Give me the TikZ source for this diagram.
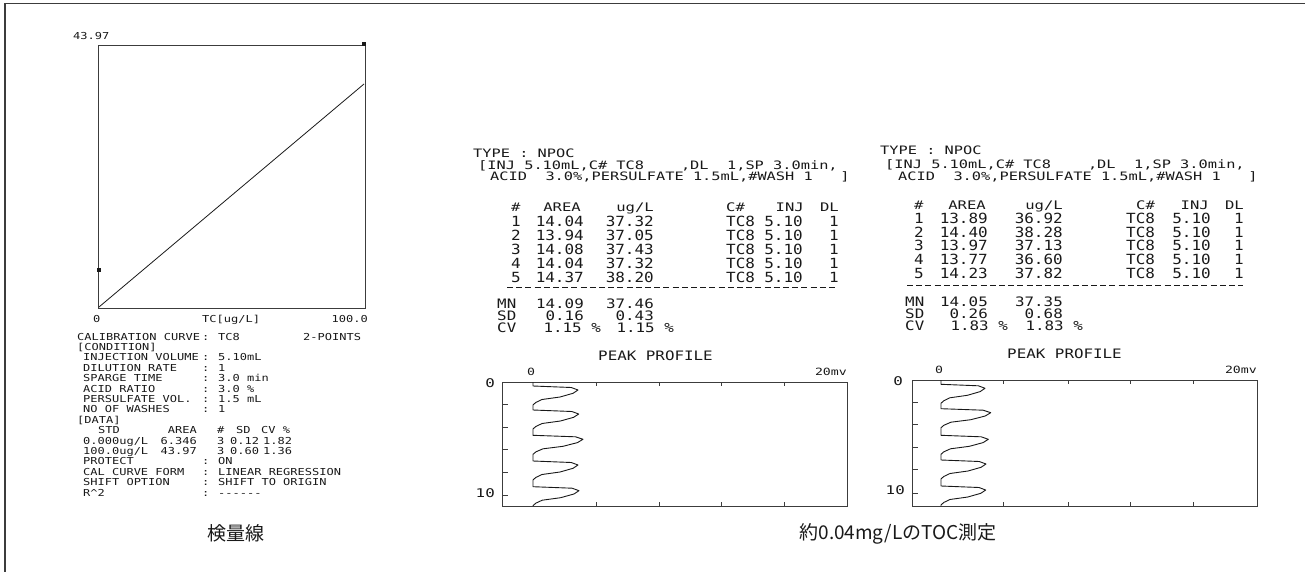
\documentclass[tikz,border=0pt]{standalone}
\usepackage{fontspec}
\newfontfamily\fA[FakeStretch=1.25]{DejaVu Sans Mono}
\newfontfamily\fH[FakeStretch=1.32]{DejaVu Sans Mono}
\newfontfamily\fM[FakeStretch=1.22]{DejaVu Sans Mono}
\newfontfamily\fT[FakeStretch=1.14]{DejaVu Sans Mono}
\newfontfamily\cjk{Noto Sans CJK JP}
\newcommand\FA{\fA\fontsize{9.6}{10}\selectfont}
\newcommand\FH{\fH\fontsize{11.6}{12}\selectfont}
\newcommand\FHh{\fH\fontsize{11.8}{12}\selectfont}
\newcommand\FT{\fT\fontsize{14}{14}\selectfont}
\newcommand\FM{\fM\fontsize{13}{13}\selectfont}
\newcommand\FS{\fH\fontsize{10}{10}\selectfont}
\newcommand\FL{\fH\fontsize{12}{12}\selectfont}
\newcommand\FC{\cjk\fontsize{19}{19}\selectfont}
\newcommand\hy{\mbox{-}}
\definecolor{ink}{RGB}{25,25,25}
\definecolor{frame}{RGB}{60,60,60}
\newcommand\peaktrace[4]{%
  \draw[trace] (#1,#2) \foreach \pk/\am in {#4} {
    -- (#1,{\pk-4}) -- ({#1+0.85*\am},{\pk-2.5}) -- ({#1+\am},\pk)
    -- ({#1+0.89*\am},{\pk+3.3}) -- ({#1+0.6*\am},{\pk+7})
    -- ({#1+0.2*\am},{\pk+9.5}) -- ({#1+0.06*\am},{\pk+12.5}) -- (#1,{\pk+15}) } -- (#1,#3);}
\tikzset{
  txt/.style={inner sep=0pt, text=ink},
  bw/.style={txt, anchor=base west},
  be/.style={txt, anchor=base east},
  frm/.style={draw=frame, line width=0.9pt},
  trace/.style={draw=ink, line width=0.9pt, line join=round},
  tick/.style={draw=frame, line width=0.8pt},
  sep/.style={draw=ink, line width=0.9pt, dash pattern=on 6pt off 3.2pt}
}
\begin{document}
\begin{tikzpicture}[x=1pt,y=-1pt]
\useasboundingbox (0,0) rectangle (1305,572);
% outer border
\draw[draw=frame, line width=1.2pt] (5,572) -- (5,3.5) -- (1305,3.5);

% ---------- calibration chart ----------
\draw[frm] (98,45) rectangle (365,308);
\draw[trace, line width=0.8pt] (99,307) -- (364,84);
\fill[ink] (362,42) rectangle (366,46);
\fill[ink] (97,268) rectangle (101,272);
\node[bw,font=\FA] (ymax) at (73,40) {43.97};
\node[bw,font=\FA] (xmin) at (93,322) {0};
\node[bw,font=\FA] (xlab) at (202,322) {TC[ug/L]};
\node[be,font=\FA] (xmax) at (368,322) {100.0};

% ---------- calibration text ----------
\node[bw,font=\FA] (c0l) at (77,340) {CALIBRATION CURVE};
\node[bw,font=\FA] (c0c) at (202,340) {:};
\node[bw,font=\FA] (c0v) at (218,340) {TC8};
\node[bw,font=\FA] (c0p) at (303,340) {2-POINTS};
\node[bw,font=\FA] (c1) at (77,350.4) {[CONDITION]};
\foreach \k/\lab/\val in {2/INJECTION VOLUME/5.10mL, 3/DILUTION RATE/1, 4/SPARGE TIME/3.0 min,
  5/ACID RATIO/3.0 \%, 6/PERSULFATE VOL./1.5 mL, 7/NO OF WASHES/1, 12/PROTECT/ON,
  13/CAL CURVE FORM/LINEAR REGRESSION, 14/SHIFT OPTION/SHIFT TO ORIGIN,
  15/R\textasciicircum 2/\hy\hy\hy\hy\hy\hy} {
  \node[bw,font=\FA] (cl\k) at (83,{340+10.4*\k}) {\lab};
  \node[bw,font=\FA] (cc\k) at (202,{340+10.4*\k}) {:};
  \node[bw,font=\FA] (cv\k) at (218,{340+10.4*\k}) {\val};
}
\node[bw,font=\FA] (c8) at (77,423.2) {[DATA]};
\node[bw,font=\FA] (d0a) at (98,433.6) {STD};
\node[be,font=\FA] (d0b) at (197,433.6) {AREA};
\node[bw,font=\FA] (d0c) at (217,433.6) {\#};
\node[bw,font=\FA] (d0d) at (236,433.6) {SD};
\node[bw,font=\FA] (d0e) at (261,433.6) {CV \%};
\foreach \k/\s/\ar/\sd/\cv in {1/0.000ug\slash L/6.346/0.12/1.82, 2/100.0ug\slash L/43.97/0.60/1.36} {
  \node[bw,font=\FA] (d\k a) at (83,{433.6+10.4*\k}) {\s};
  \node[be,font=\FA] (d\k b) at (197,{433.6+10.4*\k}) {\ar};
  \node[bw,font=\FA] (d\k c) at (217,{433.6+10.4*\k}) {3};
  \node[bw,font=\FA] (d\k d) at (230,{433.6+10.4*\k}) {\sd};
  \node[bw,font=\FA] (d\k e) at (263,{433.6+10.4*\k}) {\cv};
}
\node[txt,font=\FC] (cap1) at (236,533) {検量線};

% ---------- middle report ----------
\node[bw,font=\FH] (mt1) at (473,158) {TYPE : NPOC};
\node[bw,font=\FH] (mt2) at (478,170) {[INJ 5.10mL,C\# TC8~~~~,DL~~1,SP 3.0min,};
\node[bw,font=\FH] (mt3) at (490,181) {ACID~~3.0\%,PERSULFATE 1.5mL,\#WASH 1~~~]};
\node[bw,font=\FHh] (mh1) at (511,211.5) {\#};
\node[be,font=\FHh] (mh2) at (581,211.5) {AREA};
\node[be,font=\FHh] (mh3) at (654,211.5) {ug/L};
\node[bw,font=\FHh] (mh4) at (726,211.5) {C\#};
\node[be,font=\FHh] (mh5) at (804,211.5) {INJ};
\node[be,font=\FHh] (mh6) at (839,211.5) {DL};
\foreach \i/\ar/\ug in {1/14.04/37.32, 2/13.94/37.05, 3/14.08/37.43, 4/14.04/37.32, 5/14.37/38.20} {
  \node[bw,font=\FT] (mn\i) at (511,{212+14*\i}) {\i};
  \node[be,font=\FT] (ma\i) at (584,{212+14*\i}) {\ar};
  \node[be,font=\FT] (mu\i) at (654,{212+14*\i}) {\ug};
  \node[bw,font=\FT] (mc\i) at (726,{212+14*\i}) {TC8};
  \node[be,font=\FT] (mj\i) at (803,{212+14*\i}) {5.10};
  \node[be,font=\FT] (md\i) at (839,{212+14*\i}) {1};
}
\coordinate (msepa) at (507,287);
\coordinate (msepb) at (838,287);
\draw[sep] (msepa) -- (msepb);
\node[bw,font=\FM] (mmn) at (497,308) {MN};
\node[be,font=\FM] (mmn1) at (584,308) {14.09};
\node[be,font=\FM] (mmn2) at (654,308) {37.46};
\node[bw,font=\FM] (msd) at (497,320) {SD};
\node[be,font=\FM] (msd1) at (584,320) {0.16};
\node[be,font=\FM] (msd2) at (654,320) {0.43};
\node[bw,font=\FM] (mcv) at (497,332) {CV};
\node[be,font=\FM] (mcv1) at (601,332) {1.15 \%};
\node[be,font=\FM] (mcv2) at (674,332) {1.15 \%};

% middle peak profile
\node[bw,font=\FM] (mpp) at (598,360) {PEAK PROFILE};
\node[bw,font=\FS] (mx0) at (527,375) {0};
\node[be,font=\FS] (mx1) at (847,375) {20mv};
\node[be,font=\FL] (my0) at (495,387) {0};
\node[be,font=\FL] (my1) at (495,497) {10};
\draw[frm] (502,382) rectangle (847,506);
\foreach \t in {404,427,449,472,495} \draw[tick] (502,\t) -- (508,\t);
\foreach \t in {596,659,721,784} { \draw[tick] (\t,382) -- (\t,386); \draw[tick] (\t,506) -- (\t,502); }
\peaktrace{533}{382}{506}{390/45, 414/45.7, 439.3/50, 465/45, 490.7/46}

% ---------- right report ----------
\node[bw,font=\FH] (rt1) at (880,155) {TYPE : NPOC};
\node[bw,font=\FH] (rt2) at (885,168) {[INJ 5.10mL,C\# TC8~~~~,DL~~1,SP 3.0min,};
\node[bw,font=\FH] (rt3) at (898,180) {ACID~~3.0\%,PERSULFATE 1.5mL,\#WASH 1~~~]};
\node[bw,font=\FHh] (rh1) at (914,209.5) {\#};
\node[be,font=\FHh] (rh2) at (986,209.5) {AREA};
\node[be,font=\FHh] (rh3) at (1063,209.5) {ug/L};
\node[bw,font=\FHh] (rh4) at (1136,209.5) {C\#};
\node[be,font=\FHh] (rh5) at (1209,209.5) {INJ};
\node[be,font=\FHh] (rh6) at (1244,209.5) {DL};
\foreach \i/\ar/\ug in {1/13.89/36.92, 2/14.40/38.28, 3/13.97/37.13, 4/13.77/36.60, 5/14.23/37.82} {
  \node[bw,font=\FT] (rn\i) at (914,{209.5+13.75*\i}) {\i};
  \node[be,font=\FT] (ra\i) at (988,{209.5+13.75*\i}) {\ar};
  \node[be,font=\FT] (ru\i) at (1063,{209.5+13.75*\i}) {\ug};
  \node[bw,font=\FT] (rc\i) at (1126,{209.5+13.75*\i}) {TC8};
  \node[be,font=\FT] (rj\i) at (1211,{209.5+13.75*\i}) {5.10};
  \node[be,font=\FT] (rd\i) at (1244,{209.5+13.75*\i}) {1};
}
\coordinate (rsepa) at (907,285);
\coordinate (rsepb) at (1243,285);
\draw[sep] (rsepa) -- (rsepb);
\node[bw,font=\FM] (rmn) at (905,306.5) {MN};
\node[be,font=\FM] (rmn1) at (988,306.5) {14.05};
\node[be,font=\FM] (rmn2) at (1063,306.5) {37.35};
\node[bw,font=\FM] (rsd) at (905,318.5) {SD};
\node[be,font=\FM] (rsd1) at (988,318.5) {0.26};
\node[be,font=\FM] (rsd2) at (1063,318.5) {0.68};
\node[bw,font=\FM] (rcv) at (905,330.5) {CV};
\node[be,font=\FM] (rcv1) at (1008,330.5) {1.83 \%};
\node[be,font=\FM] (rcv2) at (1083,330.5) {1.83 \%};

% right peak profile
\node[bw,font=\FM] (rpp) at (1007,358) {PEAK PROFILE};
\node[bw,font=\FS] (rx0) at (935,373) {0};
\node[be,font=\FS] (rx1) at (1257,373) {20mv};
\node[be,font=\FL] (ry0) at (903,385) {0};
\node[be,font=\FL] (ry1) at (905,494) {10};
\draw[frm] (912,380) rectangle (1257,506);
\foreach \t in {402,424,447,469,493} \draw[tick] (912,\t) -- (918,\t);
\foreach \t in {1003,1068,1130,1193} { \draw[tick] (\t,380) -- (\t,384); \draw[tick] (\t,506) -- (\t,502); }
\peaktrace{941}{380}{506}{388.3/44, 412.7/49.7, 439.3/47.3, 464/45, 490/44.7}

\node[txt,font=\FC] (cap2) at (898,534) {約0.04mg/LのTOC測定};
\end{tikzpicture}
\end{document}
